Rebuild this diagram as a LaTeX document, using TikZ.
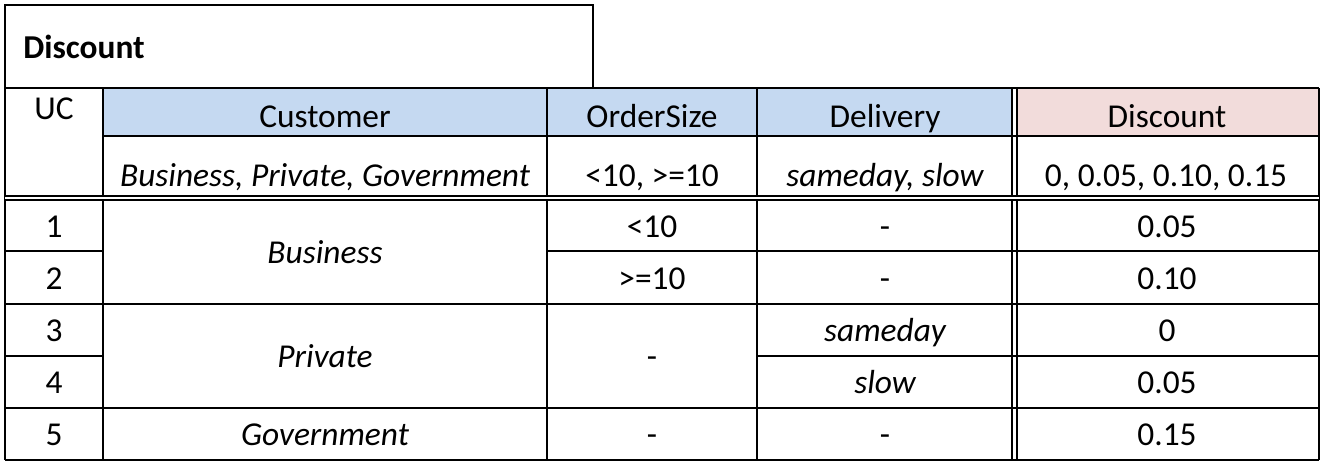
\documentclass[tikz,border=0pt]{standalone}
\usepackage{fontspec}
\setmainfont{Carlito}
\usetikzlibrary{positioning}
\definecolor{hdrBlue}{HTML}{C5D9F1}
\definecolor{hdrPink}{HTML}{F2DCDB}
\tikzset{
    gridLine/.style={line width=1.3pt},
    dblLine/.style={double, double distance=1.6pt, line width=1.1pt},
    cellTxt/.style={inner sep=0pt, text height=0.7em, text depth=0.2em, yshift=-4pt, font=\fontsize{19}{22}\selectfont},
    typeTxt/.style={cellTxt, font=\fontsize{19}{22}\selectfont\itshape},
    titleTxt/.style={cellTxt, anchor=west, font=\fontsize{19}{22}\selectfont\bfseries},
}
\newcommand{\putCell}[4][cellTxt]{
    \node[#1] (#2) at (#3) {#4};
}
\newcommand{\hLine}[3]{
    \draw[gridLine] (#1,#3) -- (#2,#3);
}

\begin{document}
\begin{tikzpicture}[x=0.02cm, y=-0.02cm]
    \useasboundingbox (0,0) rectangle (1324,466);

    % header fills
    \fill[hdrBlue] (103,88) rectangle (1012,136);
    \fill[hdrPink] (1017,88) rectangle (1319,136);

    % title box
    \draw[gridLine] (5,88) -- (5,5) -- (593,5) -- (593,88);
    \putCell[titleTxt]{title}{23,47}{Discount}

    % columns
    \draw[gridLine] (5,88) -- (5,460);
    \draw[gridLine] (103,88) -- (103,460);
    \draw[gridLine] (547,88) -- (547,460);
    \draw[gridLine] (757,88) -- (757,460);
    \draw[dblLine] (1014.5,88) -- (1014.5,460);
    \draw[gridLine] (1319,88) -- (1319,460);

    % rows
    \hLine{5}{1319}{88}
    \hLine{103}{1319}{136}
    \draw[dblLine] (5,198) -- (1319,198);
    \hLine{5}{103}{251}
    \hLine{547}{1319}{251}
    \hLine{5}{1319}{304}
    \hLine{5}{103}{356}
    \hLine{757}{1319}{356}
    \hLine{5}{1319}{408}
    \hLine{5}{1319}{460}

    % header
    \putCell{hUC}{54,108}{UC}
    \putCell{hCust}{325,116}{Customer}
    \putCell{hSize}{652,116}{OrderSize}
    \putCell{hDeliv}{885,116}{Delivery}
    \putCell{hDisc}{1167,116}{Discount}

    % value ranges
    \putCell[typeTxt]{tCust}{325,175}{Business, Private, Government}
    \putCell{tSize}{652,175}{<10, >=10}
    \putCell[typeTxt]{tDeliv}{885,175}{sameday, slow}
    \putCell{tDisc}{1166,175}{0, 0.05, 0.10, 0.15}

    % use cases
    \putCell{uc1}{54,226}{1}
    \putCell{uc2}{54,278}{2}
    \putCell{uc3}{54,330}{3}
    \putCell{uc4}{54,382}{4}
    \putCell{uc5}{54,434}{5}

    \putCell[typeTxt]{cust12}{325,252}{Business}
    \putCell[typeTxt]{cust34}{325,356}{Private}
    \putCell[typeTxt]{cust5}{325,434}{Government}

    \putCell{size1}{652,226}{<10}
    \putCell{size2}{652,278}{>=10}
    \putCell{size34}{652,356}{-}
    \putCell{size5}{652,434}{-}

    \putCell{deliv1}{885,226}{-}
    \putCell{deliv2}{885,278}{-}
    \putCell[typeTxt]{deliv3}{885,330}{sameday}
    \putCell[typeTxt]{deliv4}{885,382}{slow}
    \putCell{deliv5}{885,434}{-}

    \putCell{disc1}{1167,226}{0.05}
    \putCell{disc2}{1167,278}{0.10}
    \putCell{disc3}{1167,330}{0}
    \putCell{disc4}{1167,382}{0.05}
    \putCell{disc5}{1167,434}{0.15}

\end{tikzpicture}
\end{document}
